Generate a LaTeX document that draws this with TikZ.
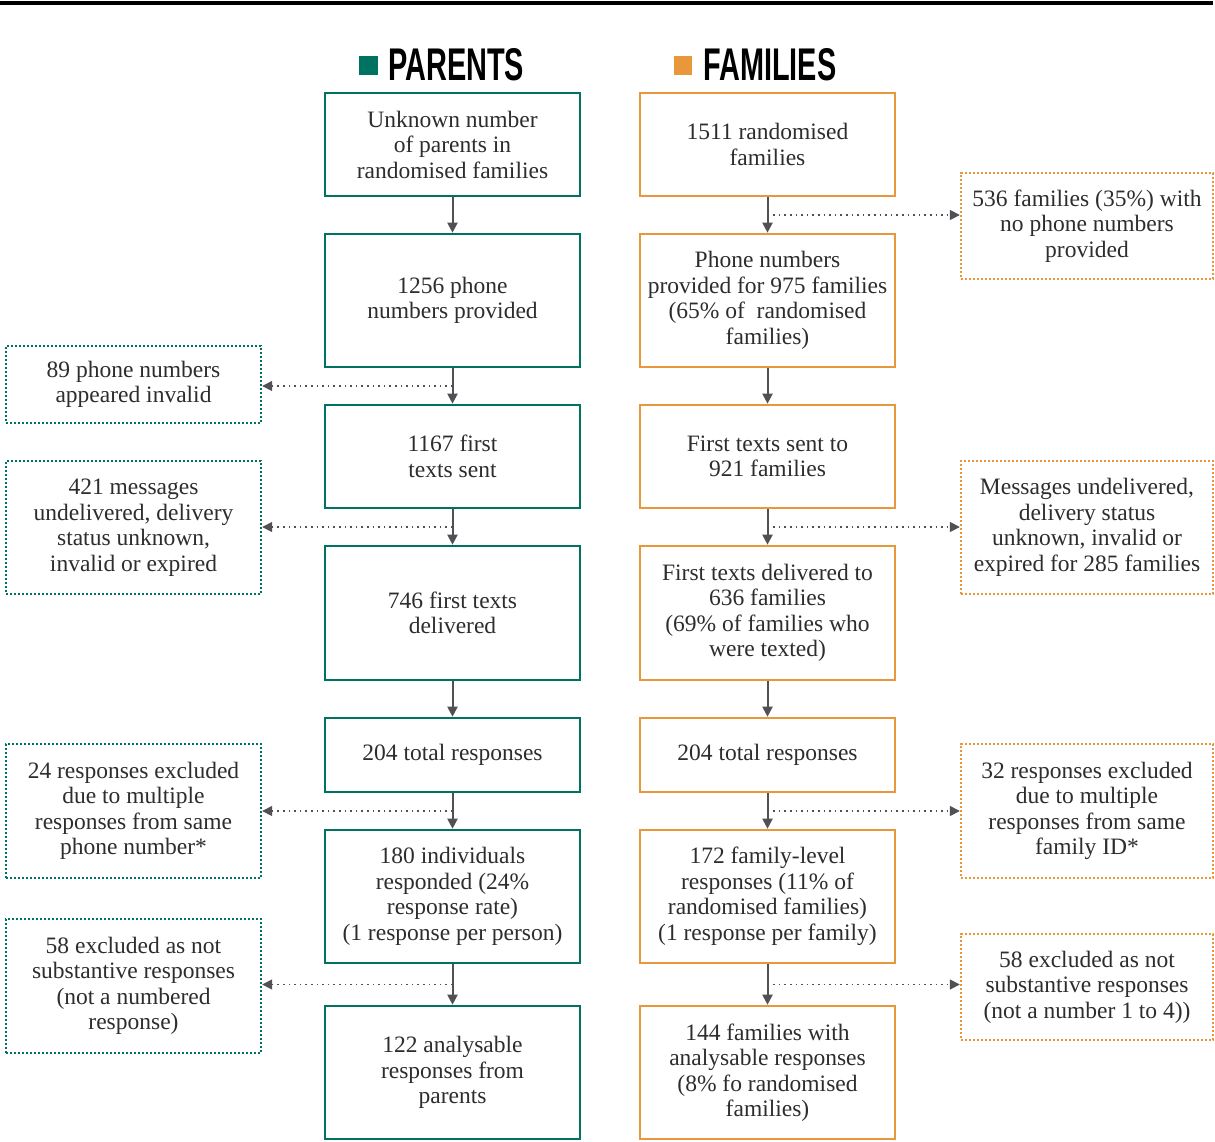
\documentclass[tikz,border=0pt]{standalone}
\usepackage{fontspec}
\setmainfont{Liberation Serif}
\newfontfamily\headfont{Liberation Sans}
\usetikzlibrary{arrows.meta,calc}
\definecolor{teal}{RGB}{0,114,98}
\definecolor{orng}{RGB}{232,151,58}
\definecolor{arr}{RGB}{80,80,85}
\definecolor{txt}{RGB}{45,45,45}
\begin{document}
\begin{tikzpicture}[x=1pt,y=-1pt,
  every node/.style={font=\fontsize{23.5}{25.5}\selectfont, text=txt, align=center, inner sep=0pt},
  pbox/.style={draw=teal, line width=2.6pt, minimum width=255pt},
  fbox/.style={draw=orng, line width=2.6pt, minimum width=255pt},
  pside/.style={draw=teal, line width=2.4pt, dash pattern=on 2.2pt off 1.8pt, minimum width=255pt},
  fside/.style={draw=orng, line width=2.4pt, dash pattern=on 2.2pt off 1.8pt, minimum width=252pt},
  main/.style={draw=arr, line width=2pt, -{Triangle[length=10pt,width=10pt]}},
  side/.style={draw=arr, line width=1.6pt, dash pattern=on 1.6pt off 4pt, -{Triangle[length=10pt,width=10pt]}},
  head/.style={font=\headfont\bfseries, text=black}]
\useasboundingbox (0,0) rectangle (1215,1142);
\fill[white] (0,0) rectangle (1215,1142);
\draw[black, line width=4pt] (0,3) -- (1213,3);
% headers
\fill[teal] (359,56) rectangle (378,75);
\node[head, anchor=west] (hp) at (388,65) {\resizebox{136pt}{32pt}{PARENTS}};
\fill[orng] (674,56) rectangle (692,75);
\node[head, anchor=west] (hf) at (703,65) {\resizebox{133pt}{32pt}{FAMILIES}};
% parents column
\node[pbox, minimum height=103pt] (P1) at (452.5,144.5) {Unknown number\\of parents in\\randomised families};
\node[pbox, minimum height=133pt] (P2) at (452.5,300.5) {1256 phone\\numbers provided};
\node[pbox, minimum height=103pt] (P3) at (452.5,456.5) {1167 first\\texts sent};
\node[pbox, minimum height=134pt] (P4) at (452.5,613) {746 first texts\\delivered};
\node[pbox, minimum height=74pt] (P5) at (452.5,755) {204 total responses};
\node[pbox, minimum height=133pt] (P6) at (452.5,896.5) {180 individuals\\responded (24\%\\response rate)\\(1 response per person)};
\node[pbox, minimum height=133pt] (P7) at (452.5,1072.5) {122 analysable\\responses from\\parents};
% families column
\node[fbox, minimum height=103pt] (F1) at (767.5,144.5) {1511 randomised\\families};
\node[fbox, minimum height=133pt] (F2) at (767.5,300.5) {Phone numbers\\provided for 975 families\\(65\% of\ \ randomised\\families)};
\node[fbox, minimum height=103pt] (F3) at (767.5,456.5) {First texts sent to\\921 families};
\node[fbox, minimum height=134pt] (F4) at (767.5,613) {First texts delivered to\\636 families\\(69\% of families who\\were texted)};
\node[fbox, minimum height=74pt] (F5) at (767.5,755) {204 total responses};
\node[fbox, minimum height=133pt] (F6) at (767.5,896.5) {172 family-level\\responses (11\% of\\randomised families)\\(1 response per family)};
\node[fbox, minimum height=133pt] (F7) at (767.5,1072.5) {144 families with\\analysable responses\\(8\% fo randomised\\families)};
% left side boxes
\node[pside, minimum height=77pt] (L1) at (133.5,384.5) {89 phone numbers\\appeared invalid};
\node[pside, minimum height=133pt] (L2) at (133.5,527.5) {421 messages\\undelivered, delivery\\status unknown,\\invalid or expired};
\node[pside, minimum height=134pt] (L3) at (133.5,811) {24 responses excluded\\due to multiple\\responses from same\\phone number*};
\node[pside, minimum height=134pt] (L4) at (133.5,986) {58 excluded as not\\substantive responses\\(not a numbered\\response)};
% right side boxes
\node[fside, minimum height=106pt] (R1) at (1087,226) {536 families (35\%) with\\no phone numbers\\provided};
\node[fside, minimum height=133pt] (R2) at (1087,527.5) {Messages undelivered,\\delivery status\\unknown, invalid or\\expired for 285 families};
\node[fside, minimum height=134pt] (R3) at (1087,811) {32 responses excluded\\due to multiple\\responses from same\\family ID*};
\node[fside, minimum height=106pt] (R4) at (1087,987) {58 excluded as not\\substantive responses\\(not a number 1 to 4))};
% main arrows
\foreach \a/\b in {P1/P2,P2/P3,P3/P4,P4/P5,P5/P6,P6/P7,F1/F2,F2/F3,F3/F4,F4/F5,F5/F6,F6/F7}
  \draw[main] (\a.south) -- (\b.north);
% side branch points
\coordinate (b1) at ($(P2.south)!0.5!(P3.north)$);
\coordinate (b2) at ($(P3.south)!0.5!(P4.north)$);
\coordinate (b3) at ($(P5.south)!0.5!(P6.north)$);
\coordinate (b4) at ($(P6.south)!0.5!(P7.north)$);
\coordinate (c1) at ($(F1.south)!0.5!(F2.north)$);
\coordinate (c2) at ($(F3.south)!0.5!(F4.north)$);
\coordinate (c3) at ($(F5.south)!0.5!(F6.north)$);
\coordinate (c4) at ($(F6.south)!0.5!(F7.north)$);
\draw[side] (b1) -- (L1.east |- b1);
\draw[side] (b2) -- (L2.east |- b2);
\draw[side] (b3) -- (L3.east |- b3);
\draw[side] (b4) -- (L4.east |- b4);
\draw[side] (c1) -- (R1.west |- c1);
\draw[side] (c2) -- (R2.west |- c2);
\draw[side] (c3) -- (R3.west |- c3);
\draw[side] (c4) -- (R4.west |- c4);
\end{tikzpicture}
\end{document}
